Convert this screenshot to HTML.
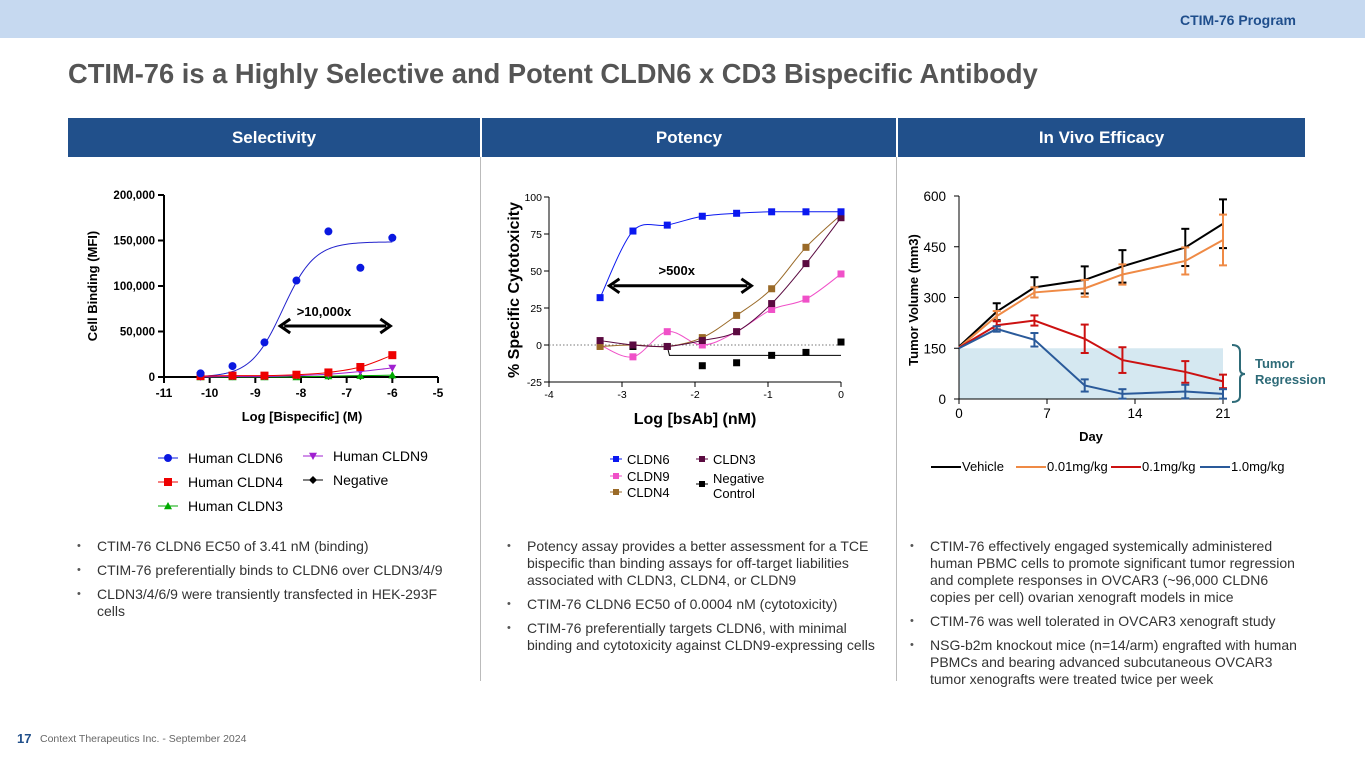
<!DOCTYPE html>
<html><head><meta charset="utf-8">
<style>
body{margin:0;width:1365px;height:768px;overflow:hidden;background:#fff;font-family:"Liberation Sans",sans-serif;position:relative}
#topband{position:absolute;left:0;top:0;width:1365px;height:38px;background:#c6d9f0}
#prog{position:absolute;left:1180px;top:12px;font-size:14px;font-weight:bold;color:#1f4e8c}
#title{position:absolute;left:68px;top:58px;font-size:27.3px;font-weight:bold;color:#555}
.hdr{position:absolute;top:118px;height:39px;background:#21508b;color:#fff;font-weight:bold;font-size:17px;text-align:center;line-height:40px}
.div{position:absolute;top:157px;width:1px;height:524px;background:#bbb}
ul{position:absolute;margin:0;padding:0 0 0 20px;list-style:none;font-size:14px;color:#333;line-height:17px}
li{position:relative;margin-bottom:7px}
li:before{content:"•";position:absolute;left:-20px;color:#555;font-size:11px}
svg{position:absolute;left:0;top:0}
</style></head><body>
<div id="topband"></div>
<div id="prog">CTIM-76 Program</div>
<div id="title">CTIM-76 is a Highly Selective and Potent CLDN6 x CD3 Bispecific Antibody</div>
<div class="hdr" style="left:68px;width:412px">Selectivity</div>
<div class="hdr" style="left:482px;width:414px">Potency</div>
<div class="hdr" style="left:898px;width:407px">In Vivo Efficacy</div>
<div class="div" style="left:480px"></div>
<div class="div" style="left:896px"></div>

<ul style="left:77px;top:538px;width:370px">
<li>CTIM-76 CLDN6 EC50 of 3.41 nM (binding)</li>
<li>CTIM-76 preferentially binds to CLDN6 over CLDN3/4/9</li>
<li>CLDN3/4/6/9 were transiently transfected in HEK-293F cells</li>
</ul>
<ul style="left:507px;top:538px;width:360px">
<li>Potency assay provides a better assessment for a TCE bispecific than binding assays for off-target liabilities associated with CLDN3, CLDN4, or CLDN9</li>
<li>CTIM-76 CLDN6 EC50 of 0.0004 nM (cytotoxicity)</li>
<li>CTIM-76 preferentially targets CLDN6, with minimal binding and cytotoxicity against CLDN9-expressing cells</li>
</ul>
<ul style="left:910px;top:538px;width:370px">
<li>CTIM-76 effectively engaged systemically administered human PBMC cells to promote significant tumor regression and complete responses in OVCAR3 (~96,000 CLDN6 copies per cell) ovarian xenograft models in mice</li>
<li>CTIM-76 was well tolerated in OVCAR3 xenograft study</li>
<li>NSG-b2m knockout mice (n=14/arm) engrafted with human PBMCs and bearing advanced subcutaneous OVCAR3 tumor xenografts were treated twice per week</li>
</ul>
<div style="position:absolute;left:17px;top:731px;font-size:13px;font-weight:bold;color:#21508b">17</div>
<div style="position:absolute;left:40px;top:733px;font-size:10.5px;color:#666">Context Therapeutics Inc. -  September 2024</div>

<svg id="sv" width="1365" height="768" xmlns="http://www.w3.org/2000/svg" font-family="Liberation Sans, sans-serif"></svg>
<script>
// ---- Selectivity data ----
const selX=[-10.2,-9.5,-8.8,-8.1,-7.4,-6.7,-6];
const selCLDN6=[4000,12000,38000,106000,160000,120000,153000];
const selCLDN4=[1000,1500,1500,2500,5000,11000,24000];
const selCLDN9=[0,500,500,1500,3000,6000,10000];
const selCLDN3=[0,0,0,0,1000,1500,2000];
const selNeg=[0,0,0,0,0,0,0];
const selXTicks=[-11,-10,-9,-8,-7,-6,-5];
const selYTicks=[0,50000,100000,150000,200000];
const selYLabels=["0","50,000","100,000","150,000","200,000"];
// ---- Potency data ----
const potX=[-3.3,-2.85,-2.38,-1.9,-1.43,-0.95,-0.48,0];
const potCLDN6=[32,77,81,87,89,90,90,90];
const potCLDN9=[0,-8,9,0,9,24,31,48];
const potCLDN4=[-1,0,-1,5,20,38,66,88];
const potCLDN3=[3,0,-1,3,9,28,55,86];
const potNegX=[-2.85,-2.38,-1.9,-1.43,-0.95,-0.48,0];
const potNeg=[-1,-1,-14,-12,-7,-5,2];
const potXTicks=[-4,-3,-2,-1,0];
const potYTicks=[-25,0,25,50,75,100];
// ---- In vivo data ----
const days=[0,3,6,10,13,18,21];
const vehicle=[155,258,330,352,392,448,518];
const vehicleErr=[0,25,30,40,48,55,72];
const dose001=[152,245,315,327,368,408,470];
const dose001Err=[0,15,15,25,30,40,75];
const dose01=[152,218,232,178,115,80,52];
const dose01Err=[0,12,15,42,38,32,20];
const dose1=[150,207,175,40,15,22,15];
const dose1Err=[0,8,20,18,14,20,14];
const vivoXTicks=[0,7,14,21];
const vivoYTicks=[0,150,300,450,600];

const sv=document.getElementById('sv');
const NS='http://www.w3.org/2000/svg';
function mk(tag,at,parent,txt){const e=document.createElementNS(NS,tag);for(const k in at)e.setAttribute(k,at[k]);if(txt!==undefined)e.textContent=txt;(parent||sv).appendChild(e);return e;}
function grp(name){const g=mk('g',{});


return g;}
function smooth(pts){if(pts.length<2)return'';let d='M'+pts[0][0]+','+pts[0][1];for(let i=0;i<pts.length-1;i++){const p0=pts[i-1]||pts[i],p1=pts[i],p2=pts[i+1],p3=pts[i+2]||p2;const c1=[p1[0]+(p2[0]-p0[0])/6,p1[1]+(p2[1]-p0[1])/6],c2=[p2[0]-(p3[0]-p1[0])/6,p2[1]-(p3[1]-p1[1])/6];d+=' C'+c1+' '+c2+' '+p2;}return d;}
function marker(g,type,x,y,c,s){
 if(type==='circle')mk('circle',{cx:x,cy:y,r:s,fill:c},g);
 else if(type==='square')mk('rect',{x:x-s,y:y-s,width:2*s,height:2*s,fill:c},g);
 else if(type==='tri')mk('polygon',{points:`${x},${y-s} ${x-s},${y+s*0.8} ${x+s},${y+s*0.8}`,fill:c},g);
 else if(type==='tridown')mk('polygon',{points:`${x},${y+s} ${x-s},${y-s*0.8} ${x+s},${y-s*0.8}`,fill:c},g);
 else if(type==='diamond')mk('polygon',{points:`${x},${y-s} ${x+s},${y} ${x},${y+s} ${x-s},${y}`,fill:c},g);
}
function arrow(g,x1,x2,y){mk('line',{x1:x1+6,y1:y,x2:x2-6,y2:y,stroke:'#000','stroke-width':3},g);
 mk('polyline',{points:`${x1+12},${y-7} ${x1+2},${y} ${x1+12},${y+7}`,fill:'none',stroke:'#000','stroke-width':3},g);
 mk('polyline',{points:`${x2-12},${y-7} ${x2-2},${y} ${x2-12},${y+7}`,fill:'none',stroke:'#000','stroke-width':3},g);}

// ===== Selectivity chart =====
(function(){
 const g=grp('selectivity-chart');
 const X=v=>164+(v+11)/6*274, Y=v=>377-v/200000*182;
 mk('line',{x1:164,y1:Y(0),x2:438,y2:Y(0),stroke:'#000','stroke-width':2},g);
 mk('line',{x1:164,y1:195,x2:164,y2:377,stroke:'#000','stroke-width':2},g);
 selXTicks.forEach(t=>{mk('line',{x1:X(t),y1:377,x2:X(t),y2:383,stroke:'#000','stroke-width':2},g);mk('text',{x:X(t),y:397,'text-anchor':'middle','font-size':12,'font-weight':'bold'},g,t);});
 selYTicks.forEach((t,i)=>{mk('line',{x1:158,y1:Y(t),x2:164,y2:Y(t),stroke:'#000','stroke-width':2},g);mk('text',{x:155,y:Y(t)+4,'text-anchor':'end','font-size':11.5,'font-weight':'bold'},g,selYLabels[i]);});
 mk('text',{x:302,y:421,'text-anchor':'middle','font-size':13,'font-weight':'bold'},g,'Log [Bispecific] (M)');
 mk('text',{x:0,y:0,transform:'translate(97,286) rotate(-90)','text-anchor':'middle','font-size':13,'font-weight':'bold'},g,'Cell Binding (MFI)');
 let pts=[];for(let v=-10.2;v<=-5.99;v+=0.05){const top=148500,ec=-8.4,h=1.25;pts.push([X(v),Y(top/(1+Math.pow(10,(ec-v)*h)))]);}
 mk('path',{d:'M'+pts.map(p=>p.join(',')).join(' L'),fill:'none',stroke:'#2222cc','stroke-width':1},g);
 const series=[[selNeg,'#000','diamond',3,true],[selCLDN3,'#0a0','tri',4,true],[selCLDN9,'#a020d0','tridown',4,true],[selCLDN4,'#e00','square',4,true],[selCLDN6,'#0a18e0','circle',4,false]];
 series.forEach(([arr,c,t,s,ln])=>{if(ln)mk('path',{d:smooth(selX.map((x,i)=>[X(x),Y(arr[i])])),fill:'none',stroke:c,'stroke-width':1},g);selX.forEach((x,i)=>marker(g,t,X(x),Y(arr[i]),c,s));});
 arrow(g,X(-8.5),X(-6),Y(56000));
 mk('text',{x:324,y:316,'text-anchor':'middle','font-size':13,'font-weight':'bold'},g,'>10,000x');
 const leg=[['Human CLDN6','#0a18e0','circle',158,458],['Human CLDN4','#e00','square',158,482],['Human CLDN3','#0a0','tri',158,506],['Human CLDN9','#a020d0','tridown',303,456],['Negative','#000','diamond',303,480]];
 leg.forEach(([n,c,t,x,y])=>{mk('line',{x1:x,y1:y,x2:x+20,y2:y,stroke:c,'stroke-width':1},g);marker(g,t,x+10,y,c,4);mk('text',{x:x+30,y:y+5,'font-size':14},g,n);});
})();

// ===== Potency chart =====
(function(){
 const g=grp('potency-chart');
 const X=v=>549+(v+4)/4*292, Y=v=>382-(v+25)/125*185;
 mk('line',{x1:549,y1:382,x2:841,y2:382,stroke:'#000','stroke-width':1},g);
 mk('line',{x1:549,y1:197,x2:549,y2:382,stroke:'#000','stroke-width':1},g);
 mk('line',{x1:549,y1:Y(0),x2:841,y2:Y(0),stroke:'#777','stroke-width':1,'stroke-dasharray':'1.5,2'},g);
 potXTicks.forEach(t=>{mk('line',{x1:X(t),y1:382,x2:X(t),y2:387,stroke:'#000'},g);mk('text',{x:X(t),y:398,'text-anchor':'middle','font-size':10.5},g,t);});
 potYTicks.forEach(t=>{mk('line',{x1:544,y1:Y(t),x2:549,y2:Y(t),stroke:'#000'},g);mk('text',{x:542,y:Y(t)+4,'text-anchor':'end','font-size':10.5},g,t);});
 mk('text',{x:695,y:424,'text-anchor':'middle','font-size':16,'font-weight':'bold'},g,'Log [bsAb] (nM)');
 mk('text',{x:0,y:0,transform:'translate(519,290) rotate(-90)','text-anchor':'middle','font-size':16,'font-weight':'bold'},g,'% Specific Cytotoxicity');
 mk('polyline',{points:`${X(-2.38)},${Y(-1)} ${X(-2.35)},${Y(-7)} ${X(0)},${Y(-7)}`,fill:'none',stroke:'#000'},g);
 potNegX.forEach((x,i)=>marker(g,'square',X(x),Y(potNeg[i]),'#000',3.5));
 const series=[[potCLDN9,'#f050c8'],[potCLDN4,'#9a6a28'],[potCLDN3,'#5a0a40'],[potCLDN6,'#0a18f0']];
 series.forEach(([arr,c])=>{mk('path',{d:smooth(potX.map((x,i)=>[X(x),Y(arr[i])])),fill:'none',stroke:c,'stroke-width':1},g);potX.forEach((x,i)=>marker(g,'square',X(x),Y(arr[i]),c,3.5));});
 arrow(g,X(-3.2),X(-1.2),Y(40));
 mk('text',{x:X(-2.25),y:Y(50)+4,'text-anchor':'middle','font-size':13,'font-weight':'bold'},g,'>500x');
 const leg=[['CLDN6','#0a18f0',610,459],['CLDN9','#f050c8',610,476],['CLDN4','#9a6a28',610,492],['CLDN3','#5a0a40',696,459]];
 leg.forEach(([n,c,x,y])=>{mk('line',{x1:x,y1:y,x2:x+12,y2:y,stroke:c},g);marker(g,'square',x+6,y,c,3);mk('text',{x:x+17,y:y+5,'font-size':13},g,n);});
 mk('line',{x1:696,y1:484,x2:708,y2:484,stroke:'#000'},g);marker(g,'square',702,484,'#000',3);
 mk('text',{x:713,y:483,'font-size':13},g,'Negative');mk('text',{x:713,y:498,'font-size':13},g,'Control');
})();

// ===== In vivo chart =====
(function(){
 const g=grp('in-vivo-chart');
 const X=v=>959+v/21*264, Y=v=>399-v/600*203;
 mk('rect',{x:X(0),y:Y(150),width:X(21)-X(0),height:Y(0)-Y(150),fill:'#d5e8f1'},g);
 mk('line',{x1:959,y1:399,x2:1223,y2:399,stroke:'#000'},g);
 mk('line',{x1:959,y1:196,x2:959,y2:399,stroke:'#000'},g);
 vivoXTicks.forEach(t=>{mk('line',{x1:X(t),y1:399,x2:X(t),y2:404,stroke:'#000'},g);mk('text',{x:X(t),y:418,'text-anchor':'middle','font-size':13.5},g,t);});
 vivoYTicks.forEach(t=>{mk('line',{x1:954,y1:Y(t),x2:959,y2:Y(t),stroke:'#000'},g);mk('text',{x:946,y:Y(t)+5,'text-anchor':'end','font-size':13.5},g,t);});
 mk('text',{x:1091,y:441,'text-anchor':'middle','font-size':13,'font-weight':'bold'},g,'Day');
 mk('text',{x:0,y:0,transform:'translate(918,300) rotate(-90)','text-anchor':'middle','font-size':13,'font-weight':'bold'},g,'Tumor Volume (mm3)');
 const series=[[vehicle,vehicleErr,'#000'],[dose001,dose001Err,'#ef8a45'],[dose01,dose01Err,'#cc1111'],[dose1,dose1Err,'#2a5a9a']];
 series.forEach(([arr,err,c])=>{
  mk('polyline',{points:days.map((d,i)=>X(d)+','+Y(arr[i])).join(' '),fill:'none',stroke:c,'stroke-width':2},g);
  days.forEach((d,i)=>{if(!err[i])return;const x=X(d);mk('line',{x1:x,y1:Y(arr[i]-err[i]),x2:x,y2:Y(arr[i]+err[i]),stroke:c,'stroke-width':2},g);
   [arr[i]-err[i],arr[i]+err[i]].forEach(v=>mk('line',{x1:x-4,y1:Y(v),x2:x+4,y2:Y(v),stroke:c,'stroke-width':2},g));});
 });
 mk('path',{d:'M1232,345 Q1240,345 1240,352 L1240,369 Q1240,374 1245,374 Q1240,374 1240,379 L1240,396 Q1240,402 1232,402',fill:'none',stroke:'#2e6b78','stroke-width':2},g);
 mk('text',{x:1255,y:368,'font-size':13,'font-weight':'bold',fill:'#2e6b78'},g,'Tumor');
 mk('text',{x:1255,y:384,'font-size':13,'font-weight':'bold',fill:'#2e6b78'},g,'Regression');
 const leg=[['Vehicle','#000',931],['0.01mg/kg','#ef8a45',1016],['0.1mg/kg','#cc1111',1111],['1.0mg/kg','#2a5a9a',1200]];
 leg.forEach(([n,c,x])=>{mk('line',{x1:x,y1:467,x2:x+30,y2:467,stroke:c,'stroke-width':2},g);mk('text',{x:x+31,y:471,'font-size':13},g,n);});
})();
</script>
</body></html>
